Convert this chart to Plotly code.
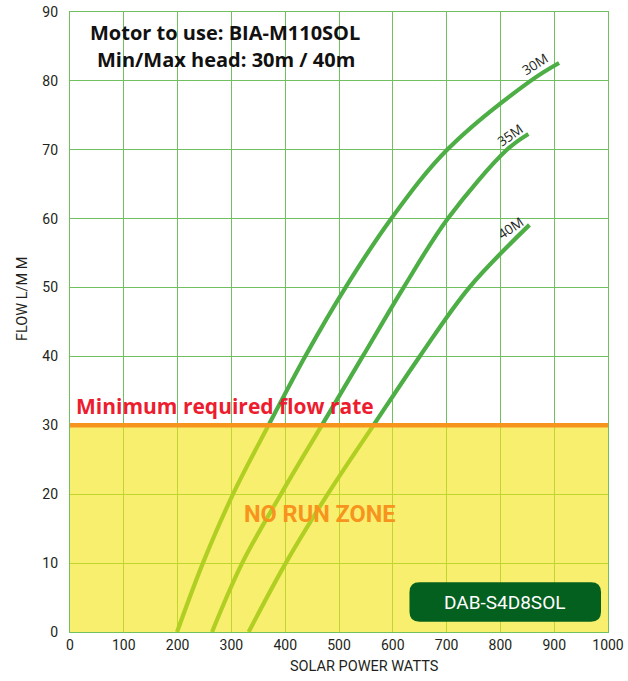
import plotly.graph_objects as go

# ---- data ----
watts_30m = [199, 247, 303, 369, 437, 512, 597, 701, 856, 909]
flow_30m = [0, 10, 20, 30, 40, 50, 60, 70, 80, 82.6]

watts_35m = [264, 320, 392, 468, 544, 620, 702, 812, 852]
flow_35m = [0, 10, 20, 30, 40, 50, 60, 70, 72.3]

watts_40m = [332, 401, 479, 564, 650, 742, 854]
flow_40m = [0, 10, 20, 30, 40, 50, 59.1]

x_ticks = [0, 100, 200, 300, 400, 500, 600, 700, 800, 900, 1000]
y_ticks = [0, 10, 20, 30, 40, 50, 60, 70, 80, 90]

min_flow = 30
curve_labels = ["30M", "35M", "40M"]
label_pos_x = [865, 818, 819]
label_pos_y = [82.5, 72.2, 58.6]
label_angles = [-32, -35, -34]

GREEN = "rgb(76,174,68)"
GRID = "rgb(112,192,96)"
TXT = "#231f20"

fig = go.Figure()
for wx, fy in [(watts_30m, flow_30m), (watts_35m, flow_35m), (watts_40m, flow_40m)]:
    fig.add_trace(go.Scatter(x=wx, y=fy, mode="lines",
                             line=dict(color=GREEN, width=4.2, shape="spline", smoothing=1.0),
                             showlegend=False, hoverinfo="skip"))

shapes = []
# no run zone (drawn above curves and grid, semi-transparent yellow)
shapes.append(dict(type="rect", xref="x", yref="y", x0=0, x1=1000, y0=0, y1=min_flow,
                   fillcolor="rgb(245,228,13)", opacity=0.6, line=dict(width=0), layer="above"))
shapes.append(dict(type="line", xref="x", yref="y", x0=0, x1=1000, y0=min_flow, y1=min_flow,
                   line=dict(color="#f7941d", width=4.5), layer="above"))
# rounded model box
x0, x1, y0, y1 = 631, 987, 1.48, 7.22
rx, ry = 18.6, 1.45
path = (f"M {x0+rx},{y0} L {x1-rx},{y0} Q {x1},{y0} {x1},{y0+ry} L {x1},{y1-ry} Q {x1},{y1} {x1-rx},{y1} "
        f"L {x0+rx},{y1} Q {x0},{y1} {x0},{y1-ry} L {x0},{y0+ry} Q {x0},{y0} {x0+rx},{y0} Z")
shapes.append(dict(type="path", xref="x", yref="y", path=path, fillcolor="#03601f",
                   line=dict(width=0), layer="above"))

annotations = []
for t, ax_, ay_, ang in zip(curve_labels, label_pos_x, label_pos_y, label_angles):
    annotations.append(dict(x=ax_, y=ay_, xref="x", yref="y", text=t, showarrow=False, textangle=ang,
                            xanchor="center", yanchor="middle",
                            font=dict(family="Open Sans", size=13.5, color=TXT)))

# text placed by pixel position (converted to paper below)
pix_texts = [
    (225, 33, "<b>Motor to use: BIA-M110SOL</b>", 0, dict(family="Open Sans", size=20, color="#111")),
    (226, 60, "<b>Min/Max head: 30m / 40m</b>", 0, dict(family="Open Sans", size=20, color="#111")),
    (225, 406, "<b>Minimum required flow rate</b>", 0, dict(family="Open Sans", size=21, color="#ed1c2e")),
    (320, 514, "<b>NO RUN ZONE</b>", 0, dict(family="Roboto", size=23.5, color="#f7941d")),
    (504, 602, "DAB-S4D8SOL", 0, dict(family="Roboto", size=19, color="white")),
    (22, 299, "FLOW L/M M", -90, dict(family="Roboto", size=14.5, color=TXT)),
    (364, 666, "SOLAR POWER WATTS", 0, dict(family="Roboto", size=14.5, color=TXT)),
]

L, R, T, B = 70, 20, 12, 49
W, H = 628, 681
pw, ph = W - L - R, H - T - B
for px, py, t, ang, f in pix_texts:
    annotations.append(dict(x=(px - L) / pw, y=(H - B - py) / ph, xref="paper", yref="paper",
                            text=t, showarrow=False, textangle=ang, font=f,
                            xanchor="center", yanchor="middle"))

fig.update_layout(
    width=W, height=H, margin=dict(l=L, r=R, t=T, b=B, autoexpand=False),
    paper_bgcolor="white", plot_bgcolor="white",
    shapes=shapes, annotations=annotations,
    xaxis=dict(range=[0, 1000], tickvals=x_ticks, showgrid=True, gridcolor=GRID, gridwidth=1.2,
               zeroline=False, showline=True, mirror=True, linecolor=GRID, linewidth=1.2,
               automargin=False,
               tickfont=dict(family="Roboto", size=14, color=TXT), ticks="", ticklabelstandoff=0),
    yaxis=dict(range=[0, 90], tickvals=y_ticks, showgrid=True, gridcolor=GRID, gridwidth=1.2,
               zeroline=False, showline=True, mirror=True, linecolor=GRID, linewidth=1.2,
               automargin=False,
               tickfont=dict(family="Roboto", size=14, color=TXT), ticks="", ticklabelstandoff=8),
)

fig.write_html("out.html", config={"displayModeBar": False},
               post_script="document.body.style.margin='0';")
